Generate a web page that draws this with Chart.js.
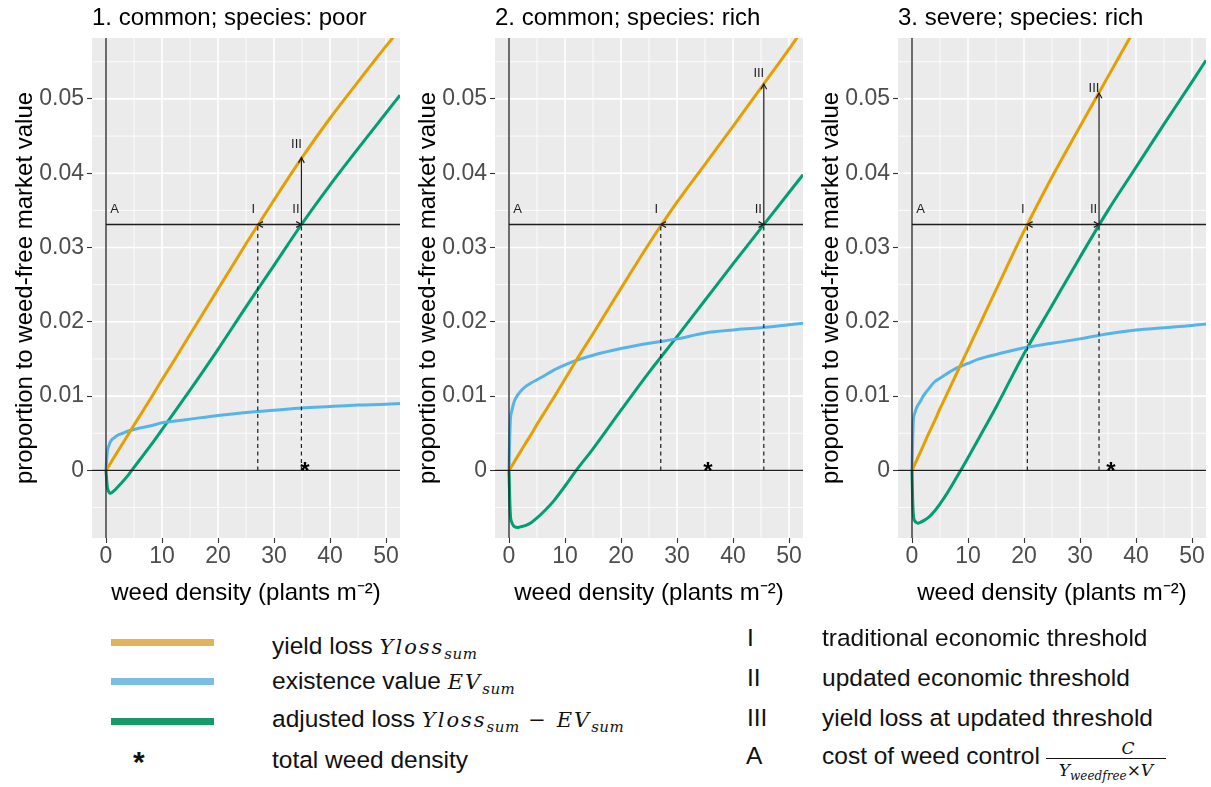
<!DOCTYPE html>
<html><head><meta charset="utf-8">
<script src="https://cdn.jsdelivr.net/npm/chart.js@4.4.1/dist/chart.umd.min.js"></script>
<style>
body{margin:0;background:#fff;width:1211px;height:787px;overflow:hidden;position:relative;font-family:"Liberation Sans",Arial,sans-serif;}
canvas{position:absolute;top:0;}
.lg{position:absolute;font-size:24.5px;line-height:28px;color:#111;white-space:nowrap;}
.sw{position:absolute;height:7px;width:103px;left:111px;}
.m{font-family:"DejaVu Serif","Liberation Serif",serif;font-style:italic;font-size:21px;letter-spacing:2px;}
.m sub{font-size:15px;vertical-align:-5px;letter-spacing:0.5px;}
.frac{position:absolute;left:1046px;top:738px;width:120px;font-family:"DejaVu Serif","Liberation Serif",serif;font-style:italic;color:#111;}
.frac .num{font-size:17px;line-height:20px;text-align:center;padding-left:44px;}
.frac .den{font-size:17px;line-height:22px;text-align:center;border-top:1.5px solid #111;white-space:nowrap;}
.frac .den sub{font-size:12px;vertical-align:-4px;}
</style></head><body>
<canvas id="c0" width="404" height="620" style="left:0px"></canvas>
<canvas id="c1" width="404" height="620" style="left:403px"></canvas>
<canvas id="c2" width="405" height="620" style="left:806px"></canvas>

<div class="sw" style="top:639px;background:#E3B35C"></div>
<div class="sw" style="top:678px;background:#7BBDE6"></div>
<div class="sw" style="top:718px;background:#169A6B"></div>
<div class="lg" style="left:133px;top:748px;font-size:30px;font-weight:bold">*</div>

<div class="lg" style="left:272px;top:632px">yield loss <span class="m">Yloss<sub>sum</sub></span></div>
<div class="lg" style="left:272px;top:667px">existence value <span class="m">EV<sub>sum</sub></span></div>
<div class="lg" style="left:272px;top:705px">adjusted loss <span class="m">Yloss<sub>sum</sub> − EV<sub>sum</sub></span></div>
<div class="lg" style="left:272px;top:746px">total weed density</div>

<div class="lg" style="left:747px;top:624px">I</div>
<div class="lg" style="left:747px;top:664px">II</div>
<div class="lg" style="left:747px;top:704px">III</div>
<div class="lg" style="left:746px;top:742px">A</div>
<div class="lg" style="left:822px;top:624px">traditional economic threshold</div>
<div class="lg" style="left:822px;top:664px">updated economic threshold</div>
<div class="lg" style="left:822px;top:704px">yield loss at updated threshold</div>
<div class="lg" style="left:822px;top:742px">cost of weed control</div>
<div class="frac"><div class="num">C</div><div class="den">Y<sub>weedfree</sub>×V</div></div>

<script>
// ---------- data ----------
const density = [0,0.1,0.25,0.5,0.75,1,1.5,2,3,4,5,6,8,10,12,15,20,25,30,35,40,45,50,52.5];

const yieldLoss1 = [0,0.00012,0.0003,0.0006,0.0009,0.00122,0.00183,0.00244,0.00366,0.00488,0.0061,0.0073,0.0097,0.0122,0.0146,0.0183,0.0244,0.0305,0.0364,0.0421,0.0474,0.0523,0.0571,0.0594];
const existence1 = [0,0.0012,0.0026,0.0033,0.0038,0.0041,0.0044,0.0047,0.0050,0.0053,0.0055,0.0057,0.0060,0.0064,0.0066,0.0069,0.0074,0.0078,0.0081,0.0084,0.0086,0.0088,0.0089,0.0090];
const adjusted1  = [0,-0.0011,-0.0023,-0.0029,-0.0031,-0.0030,-0.0027,-0.0023,-0.0015,-0.0006,0.0004,0.0014,0.0034,0.0055,0.0076,0.0108,0.0163,0.0220,0.0276,0.0332,0.0384,0.0433,0.0481,0.0505];

const yieldLoss2 = [0,0.00012,0.0003,0.0006,0.0009,0.00123,0.00185,0.00246,0.0037,0.0049,0.0062,0.0074,0.0098,0.0123,0.0148,0.0184,0.0245,0.0305,0.0361,0.0412,0.0463,0.0515,0.0567,0.0594];
const existence2 = [0,0.0035,0.0068,0.0080,0.0088,0.0094,0.0101,0.0106,0.0113,0.0118,0.0122,0.0126,0.0135,0.0142,0.0148,0.0155,0.0164,0.0171,0.0177,0.0185,0.0189,0.0192,0.0196,0.0198];
const adjusted2  = [0,-0.0030,-0.0060,-0.0070,-0.0074,-0.0076,-0.0077,-0.0076,-0.0074,-0.0070,-0.0064,-0.0057,-0.0041,-0.0021,0,0.0029,0.0081,0.0132,0.0180,0.0229,0.0278,0.0326,0.0374,0.0398];

const yieldLoss3 = [0,0.00016,0.0004,0.00082,0.00123,0.00164,0.00246,0.0033,0.005,0.0066,0.0083,0.0099,0.0131,0.0163,0.0195,0.0243,0.0322,0.0395,0.0463,0.0530,0.0597,0.0663,0.0728,0.076];
const existence3 = [0,0.0035,0.0068,0.0077,0.0083,0.0087,0.0093,0.0100,0.0110,0.0119,0.0124,0.0129,0.0138,0.0144,0.0150,0.0156,0.0165,0.0171,0.0177,0.0184,0.0189,0.0192,0.0195,0.0197];
const adjusted3  = [0,-0.0035,-0.0060,-0.0068,-0.0070,-0.0071,-0.0070,-0.0068,-0.0063,-0.0055,-0.0045,-0.0034,-0.0009,0.0017,0.0044,0.0085,0.0157,0.0222,0.0287,0.0350,0.0408,0.0466,0.0523,0.0552];

const panelTitles = ['1. common; species: poor', '2. common; species: rich', '3. severe; species: rich'];
const costA        = [0.0331, 0.0331, 0.0331];   // A
const thresholdI   = [27.1, 27.1, 20.6];         // I
const thresholdII  = [34.9, 45.5, 33.4];         // II
const lossIII      = [0.0421, 0.052, 0.0508];    // III
const totalDensity = [35.5, 35.5, 35.5];         // *

const xTicks = [0, 10, 20, 30, 40, 50];
const yTicks = [0, 0.01, 0.02, 0.03, 0.04, 0.05];
const xRange = [-2.5, 52.5];
const yRange = [-0.0091, 0.0582];

// ---------- drawing ----------
const yieldLoss = [yieldLoss1, yieldLoss2, yieldLoss3];
const existence = [existence1, existence2, existence3];
const adjusted  = [adjusted1, adjusted2, adjusted3];
const FAMILY = '"Liberation Sans", Arial, sans-serif';
const pairs = (xs, ys) => xs.map((x, k) => ({x: x, y: ys[k]}));
function minorOf(ticks, min, max) {
  const step = ticks[1] - ticks[0], out = [];
  for (let v = ticks[0] - step / 2; v <= max; v += step) if (v >= min) out.push(v);
  return out;
}

const bgPlugin = {
  id: 'ggbg',
  beforeDatasetsDraw(chart) {
    const {ctx, chartArea: a, scales: {x, y}} = chart;
    ctx.save();
    ctx.fillStyle = '#EBEBEB';
    ctx.fillRect(a.left, a.top, a.right - a.left, a.bottom - a.top);
    ctx.strokeStyle = '#FFFFFF';
    const vl = (v, w) => { const p = x.getPixelForValue(v); ctx.lineWidth = w; ctx.beginPath(); ctx.moveTo(p, a.top); ctx.lineTo(p, a.bottom); ctx.stroke(); };
    const hl = (v, w) => { const p = y.getPixelForValue(v); ctx.lineWidth = w; ctx.beginPath(); ctx.moveTo(a.left, p); ctx.lineTo(a.right, p); ctx.stroke(); };
    minorOf(xTicks, xRange[0], xRange[1]).forEach(v => vl(v, 0.8));
    minorOf(yTicks, yRange[0], yRange[1]).forEach(v => hl(v, 0.8));
    xTicks.forEach(v => vl(v, 1.6));
    yTicks.forEach(v => hl(v, 1.6));
    ctx.restore();
  }
};

const iiiOffset = [13, 11, 4.5];
function makeAnnot(i) {
  return {
    id: 'annot' + i,
    afterDatasetsDraw(chart) {
      const {ctx, chartArea: a, scales: {x, y}} = chart;
      const px = v => x.getPixelForValue(v), py = v => y.getPixelForValue(v);
      const line = (x1, y1, x2, y2) => { ctx.beginPath(); ctx.moveTo(x1, y1); ctx.lineTo(x2, y2); ctx.stroke(); };
      const head = (hx, hy, ang) => {
        const L = 6, s = 0.5;
        ctx.beginPath();
        ctx.moveTo(hx + L * Math.cos(ang + Math.PI - s), hy + L * Math.sin(ang + Math.PI - s));
        ctx.lineTo(hx, hy);
        ctx.lineTo(hx + L * Math.cos(ang + Math.PI + s), hy + L * Math.sin(ang + Math.PI + s));
        ctx.stroke();
      };
      ctx.save();
      ctx.beginPath(); ctx.rect(a.left, a.top, a.right - a.left, a.bottom - a.top); ctx.clip();
      ctx.strokeStyle = '#1E1E1E'; ctx.lineWidth = 1.3;
      line(px(0), a.top, px(0), a.bottom);
      line(a.left, py(0), a.right, py(0));
      line(px(0), py(costA[i]), a.right, py(costA[i]));
      ctx.setLineDash([4, 3.5]); ctx.lineWidth = 1.2;
      line(px(thresholdI[i]), py(0), px(thresholdI[i]), py(costA[i]));
      line(px(thresholdII[i]), py(0), px(thresholdII[i]), py(costA[i]));
      ctx.setLineDash([]);
      line(px(thresholdII[i]), py(costA[i]), px(thresholdII[i]), py(lossIII[i]));
      head(px(thresholdI[i]), py(costA[i]), Math.PI);
      head(px(thresholdII[i]), py(costA[i]), 0);
      head(px(thresholdII[i]), py(lossIII[i]), -Math.PI / 2);
      ctx.fillStyle = '#1E1E1E'; ctx.font = '13px ' + FAMILY; ctx.textAlign = 'center'; ctx.textBaseline = 'middle';
      ctx.fillText('A', px(0) + 8.5, py(costA[i]) - 15.5);
      ctx.fillText('I', px(thresholdI[i]) - 4.5, py(costA[i]) - 15.5);
      ctx.fillText('II', px(thresholdII[i]) - 5.5, py(costA[i]) - 15.5);
      ctx.fillText('III', px(thresholdII[i]) - 5, py(lossIII[i]) - iiiOffset[i]);
      ctx.fillStyle = '#000'; ctx.font = 'bold 24px ' + FAMILY; ctx.textBaseline = 'alphabetic';
      ctx.fillText('*', px(totalDensity[i]), py(0) + 9);
      ctx.restore();
    }
  };
}

function makeChart(i) {
  const ds = (vals, color) => ({data: pairs(density, vals), borderColor: color, borderWidth: 3,
    pointRadius: 0, fill: false, cubicInterpolationMode: 'monotone', clip: 0});
  new Chart(document.getElementById('c' + i), {
    type: 'line',
    data: {datasets: [
      ds(yieldLoss[i], '#E69F00'),
      ds(existence[i], '#56B4E9'),
      ds(adjusted[i], '#009E73')
    ]},
    options: {
      responsive: false, animation: false, events: [],
      layout: {padding: {left: 0, right: i === 2 ? 5 : 4, top: 0, bottom: 0}},
      plugins: {
        legend: {display: false}, tooltip: {enabled: false},
        title: {display: true, text: panelTitles[i], align: 'start', fullSize: false, color: '#000',
          font: {size: 24, family: FAMILY, weight: 'normal'}, padding: {top: 4, bottom: 5.2}}
      },
      scales: {
        x: {type: 'linear', min: xRange[0], max: xRange[1],
          afterBuildTicks: s => { s.ticks = xTicks.map(v => ({value: v})); },
          afterFit: s => { s.height = 82; },
          grid: {drawOnChartArea: false, drawTicks: true, tickLength: 5, tickColor: '#333', tickWidth: 1.1},
          border: {display: false},
          ticks: {color: '#4D4D4D', font: {size: 23, family: FAMILY}, padding: 0, maxRotation: 0, autoSkip: false,
            callback: v => String(v)},
          title: {display: true, text: 'weed density (plants m⁻²)', color: '#000',
            font: {size: 24, family: FAMILY}, padding: {top: 0, bottom: 12.6}}
        },
        y: {type: 'linear', min: yRange[0], max: yRange[1],
          afterBuildTicks: s => { s.ticks = yTicks.map(v => ({value: v})); },
          afterFit: s => { s.width = 92; },
          grid: {drawOnChartArea: false, drawTicks: true, tickLength: 5, tickColor: '#333', tickWidth: 1.1},
          border: {display: false},
          ticks: {color: '#4D4D4D', font: {size: 23, family: FAMILY}, padding: 3, autoSkip: false,
            callback: v => v === 0 ? '0' : v.toFixed(2)},
          title: {display: true, text: 'proportion to weed-free market value', color: '#000',
            font: {size: 24, family: FAMILY}, padding: {top: 10.6, bottom: 0}}
        }
      }
    },
    plugins: [bgPlugin, makeAnnot(i)]
  });
}
[0, 1, 2].forEach(makeChart);
</script>
</body></html>
